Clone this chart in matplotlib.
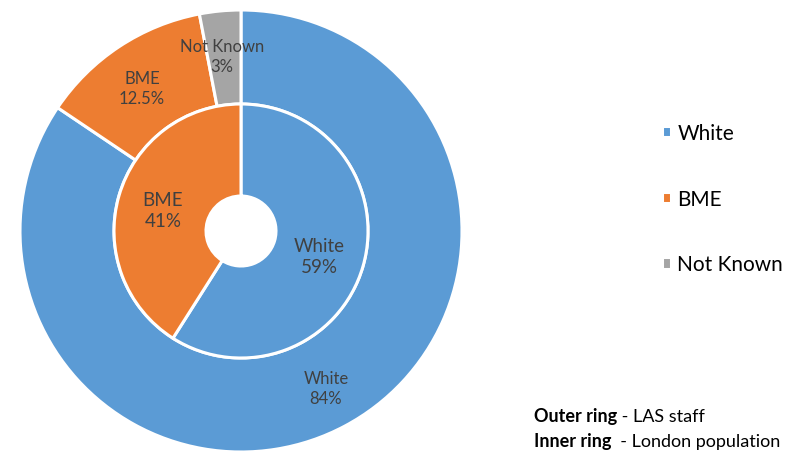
import matplotlib
matplotlib.use("Agg")
import matplotlib.pyplot as plt

categories = ["White", "BME", "Not Known"]
outer_values = [84, 12.5, 3]          # LAS staff
inner_values = [59, 41]               # London population
outer_labels = ["White\n84%", "BME\n12.5%", "Not Known\n3%"]
inner_labels = ["White\n59%", "BME\n41%"]
colors = ["#5B9BD5", "#ED7D31", "#A5A5A5"]

plt.rcParams['font.family'] = ['Lato', 'DejaVu Sans']

W, H = 804, 452
fig = plt.figure(figsize=(W / 100, H / 100), dpi=100)
ax = fig.add_axes([0, 0, 1, 1])
ax.set_xlim(0, W)
ax.set_ylim(0, H)
ax.set_aspect('equal')
ax.axis('off')

cx, cy = 241, H - 232
r_out, r_mid, r_hole = 221, 127, 35
edge = dict(edgecolor='white', linewidth=2.2)

wedges_out, _ = ax.pie(outer_values, colors=colors, radius=r_out, center=(cx, cy),
                       startangle=90, counterclock=False,
                       wedgeprops=dict(width=r_out - r_mid, **edge))
wedges_in, _ = ax.pie(inner_values, colors=colors[:2], radius=r_mid, center=(cx, cy),
                      startangle=90, counterclock=False,
                      wedgeprops=dict(width=r_mid - r_hole, **edge))
ax.set_xlim(0, W)
ax.set_ylim(0, H)

txt = '#404040'
out_pos = [(326, 389), (142, 89), (222, 57)]
for lab, (x, y) in zip(outer_labels, out_pos):
    ax.text(x, H - y, lab, ha='center', va='center', fontsize=12, color=txt,
            linespacing=1.3)
in_pos = [(319, 257), (163, 211)]
for lab, (x, y) in zip(inner_labels, in_pos):
    ax.text(x, H - y, lab, ha='center', va='center', fontsize=13.5, color=txt,
            linespacing=1.3)

leg = ax.legend(wedges_out, categories, loc='upper left',
                bbox_to_anchor=(643 / W, 1 - 105 / H), frameon=False,
                fontsize=15, labelspacing=2.2, handlelength=0.45,
                handleheight=0.45, handletextpad=0.3)

b1 = ax.text(534, H - 417, "Outer ring", fontsize=13, fontweight='bold',
             color='black', va='center')
ax.annotate(" - LAS staff", xy=(1, 0), xycoords=b1, va='bottom', ha='left',
            fontsize=13, color='black')
b2 = ax.text(534, H - 442, "Inner ring", fontsize=13, fontweight='bold',
             color='black', va='center')
ax.annotate("  - London population", xy=(1, 0), xycoords=b2, va='bottom',
            ha='left', fontsize=13, color='black')

fig.savefig("out.png", dpi=100)
